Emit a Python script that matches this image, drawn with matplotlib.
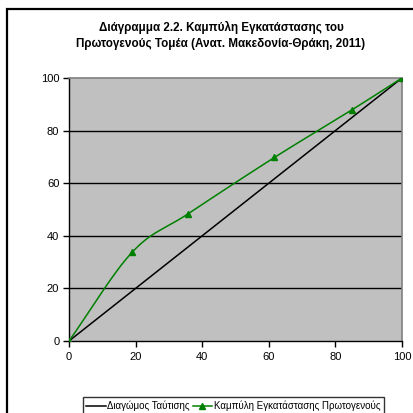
import numpy as np
import matplotlib
matplotlib.use("Agg")
import matplotlib.pyplot as plt
from matplotlib.patches import Rectangle

plt.rcParams['font.family'] = ['Liberation Sans', 'DejaVu Sans']

# data
diag_x = [0, 100]
diag_y = [0, 100]
curve_x = [0, 19, 35.8, 61.7, 85.1, 100]
curve_y = [0, 33.8, 48.4, 69.8, 88.0, 100]
ticks = [0, 20, 40, 60, 80, 100]

title = "Διάγραμμα 2.2. Καμπύλη Εγκατάστασης του\nΠρωτογενούς Τομέα (Ανατ. Μακεδονία-Θράκη, 2011)"
label_diag = "Διαγώμος Ταύτισης"
label_curve = "Καμπύλη Εγκατάστασης Πρωτογενούς"


def smooth(x, y, n=30):
    # catmull-rom style smoothing like excel "smoothed line"
    x = np.asarray(x, float)
    y = np.asarray(y, float)
    px = np.concatenate([[2 * x[0] - x[1]], x, [2 * x[-1] - x[-2]]])
    py = np.concatenate([[2 * y[0] - y[1]], y, [2 * y[-1] - y[-2]]])
    xs, ys = [], []
    t = np.linspace(0, 1, n)
    for i in range(1, len(px) - 2):
        for p, out in ((px, xs), (py, ys)):
            p0, p1, p2, p3 = p[i - 1], p[i], p[i + 1], p[i + 2]
            out.extend(0.5 * (2 * p1 + (-p0 + p2) * t
                              + (2 * p0 - 5 * p1 + 4 * p2 - p3) * t ** 2
                              + (-p0 + 3 * p1 - 3 * p2 + p3) * t ** 3))
    return xs, ys


fig = plt.figure(figsize=(4.13, 4.13), dpi=100)
W = H = 413.0

# outer chart frame
fig.patches.append(Rectangle((7.5 / W, -0.05), 1.1, 1 - 9 / H + 0.05,
                             transform=fig.transFigure, fill=False,
                             edgecolor='black', linewidth=1.6))

ax = fig.add_axes([69 / W, 72 / H, 333 / W, 263 / H])
ax.set_facecolor('#C0C0C0')
ax.set_xlim(0, 100)
ax.set_ylim(0, 100)
ax.set_xticks(ticks)
ax.set_yticks(ticks)
ax.tick_params(direction='out', length=4, width=1, labelsize=8, pad=3)
ax.tick_params(axis='x', pad=4)

for v in ticks[1:-1]:
    ax.axhline(v, color='black', linewidth=1, zorder=1)

for s in ['top', 'right']:
    ax.spines[s].set_color('#808080')
    ax.spines[s].set_linewidth(1.2)
for s in ['left', 'bottom']:
    ax.spines[s].set_color('black')
    ax.spines[s].set_linewidth(1)

ax.plot(diag_x, diag_y, color='black', linewidth=1.1, zorder=3, label=label_diag)
sx, sy = smooth(curve_x, curve_y)
ax.plot(sx, sy, color='#008000', linewidth=1.1, zorder=4)
ax.plot(curve_x, curve_y, linestyle='none', marker='^', markersize=4,
        color='#008000', zorder=5)
# legend proxy
ax.plot([], [], color='#008000', linewidth=1.1, marker='^', markersize=4,
        label=label_curve)

fig.text(221 / W, 1 - 35.5 / H, title, ha='center', va='center',
         fontsize=8.4, fontweight='bold', linespacing=1.45)

leg = fig.legend(loc='upper left', bbox_to_anchor=(83 / W, 1 - 397 / H),
                 ncol=2, fontsize=7, frameon=True, fancybox=False,
                 edgecolor='black', borderpad=0.35, handlelength=2.0,
                 columnspacing=0.3, handletextpad=0.15, borderaxespad=0)
leg.get_frame().set_linewidth(1)

fig.savefig('out.png', dpi=100)
